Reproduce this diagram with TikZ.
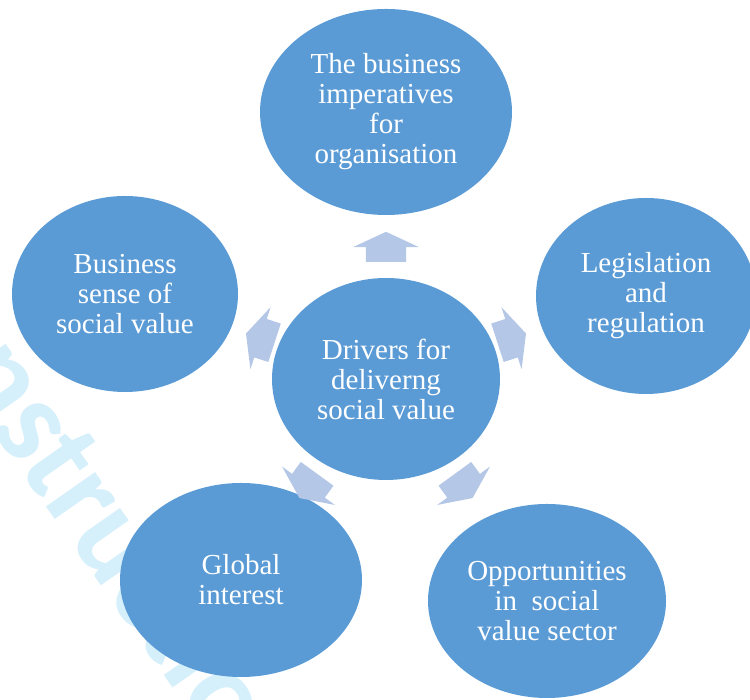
\documentclass[tikz,border=0pt]{standalone}
\usepackage{fontspec}
\setmainfont{Liberation Serif}
\newfontfamily\markfont{Carlito}
\usepackage{tikz}
\usetikzlibrary{calc, shapes.geometric, shapes.arrows}
\usepackage{xcolor}
\definecolor{circblue}{HTML}{5B9BD5}
\definecolor{arrowblue}{HTML}{B4C7E7}
\definecolor{markcyan}{HTML}{D6F0FB}

\begin{document}
\begin{tikzpicture}[x=1pt, y=1pt,
        % Style for the blue ellipses
        driver/.style={ellipse, fill=circblue, text=white, align=center, inner sep=0pt,
            font=\fontsize{29}{30}\selectfont},
        % Style for the pale block arrows
        spoke/.style={single arrow, fill=arrowblue, inner xsep=0pt, inner ysep=20pt,
            minimum height=30pt, minimum width=65pt,
            single arrow head extend=12.5pt, single arrow tip angle=130}]

        % 1. Page frame
        \useasboundingbox (0,0) rectangle (750,700);
        \clip (0,0) rectangle (750,700);

        % 2. Faint watermark behind everything
        \node[text=markcyan, font=\markfont\bfseries\fontsize{124}{124}\selectfont,
            rotate=-55, anchor=base west, inner sep=0pt] (wm) at (-124,436) {Construction};

        % 3. Centre ellipse
        \node[driver, minimum width=228pt, minimum height=202pt] (drv) at (386,321)
            {Drivers for\\deliverng\\social value};

        % 4. Outer ellipses
        \node[driver, minimum width=252pt, minimum height=206pt] (imp) at (386,588)
            {The business\\imperatives\\for\\organisation};
        \node[driver, minimum width=220pt, minimum height=196pt] (leg) at (646,404)
            {Legislation\\and\\regulation};
        \node[driver, minimum width=238pt, minimum height=194pt] (opp) at (547,99)
            {Opportunities\\in\ \ social\\value sector};
        \node[driver, minimum width=242pt, minimum height=194pt] (glb) at (241,120)
            {Global\\interest};
        \node[driver, minimum width=226pt, minimum height=196pt] (bus) at (125,406)
            {Business\\sense of\\social value};

        % 5. Arrows pointing out of the centre
        \foreach \ang/\nm in {90/imp, 18/leg, -54/opp, -126/glb, 162/bus}
            \node[spoke, rotate=\ang, anchor=tail] (arr-\nm) at ($(drv)+(\ang:117)$) {};

    \end{tikzpicture}
\end{document}
